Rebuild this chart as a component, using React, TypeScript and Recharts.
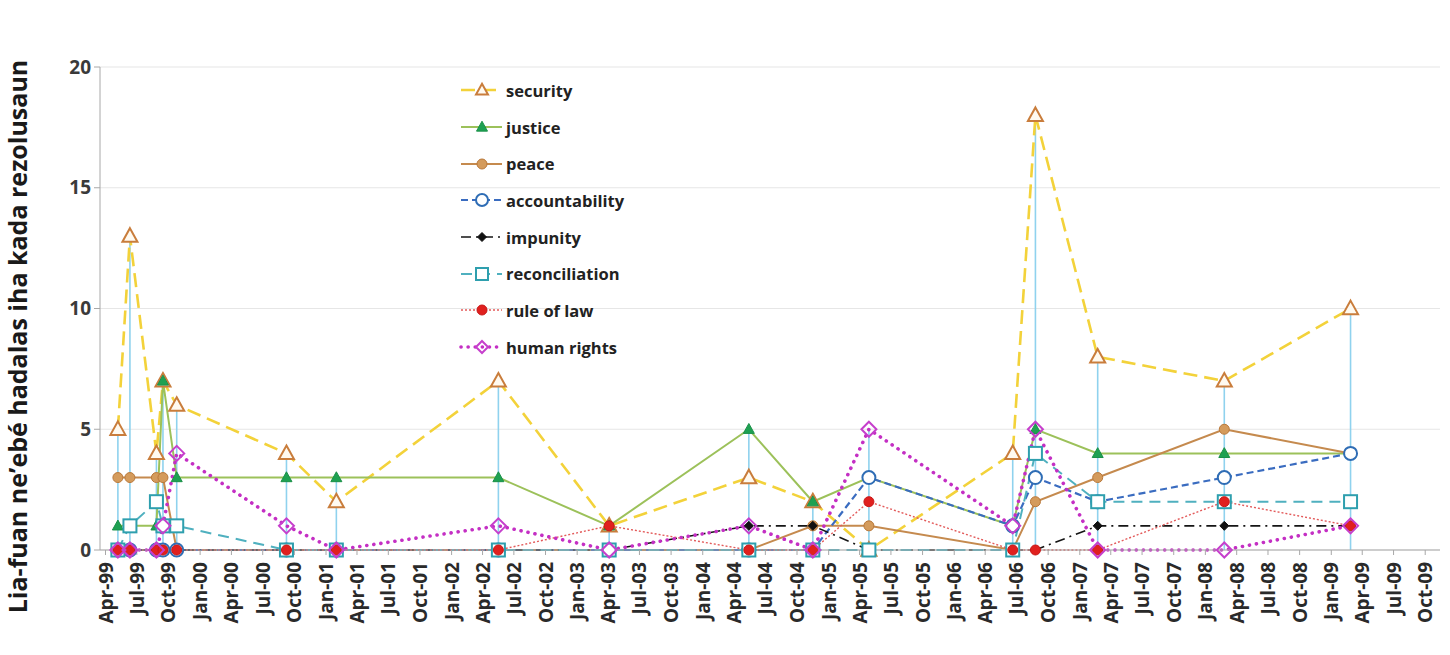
import React from 'react'
import { ComposedChart, Line, XAxis, YAxis, CartesianGrid, ReferenceLine } from 'recharts'

// resolution dates (one point per resolution)
const dates = [
  '1999-05-07', '1999-06-11', '1999-08-27', '1999-09-15', '1999-10-25',
  '2000-09-08', '2001-01-31', '2002-05-17', '2003-04-04', '2004-05-14',
  '2004-11-16', '2005-04-28', '2006-06-20', '2006-08-25', '2007-02-22',
  '2008-02-25', '2009-02-26',
]

const security = [5, 13, 4, 7, 6, 4, 2, 7, 1, 3, 2, 0, 4, 18, 8, 7, 10]
const justice = [1, 1, 1, 7, 3, 3, 3, 3, 1, 5, 2, 3, 1, 5, 4, 4, 4]
const peace = [3, 3, 3, 3, 0, 0, 0, 0, 0, 0, 1, 1, 0, 2, 3, 5, 4]
const accountability = [0, 0, 0, 0, 0, 0, 0, 0, 0, 0, 0, 3, 1, 3, 2, 3, 4]
const impunity = [0, 0, 0, 0, 0, 0, 0, 0, 0, 1, 1, 0, 0, 0, 1, 1, 1]
const reconciliation = [0, 1, 2, 1, 1, 0, 0, 0, 0, 0, 0, 0, 0, 4, 2, 2, 2]
const ruleOfLaw = [0, 0, 0, 0, 0, 0, 0, 0, 1, 0, 0, 2, 0, 0, 0, 2, 1]
const humanRights = [0, 0, 0, 1, 4, 1, 0, 1, 0, 1, 0, 5, 1, 5, 0, 0, 1]

const tickLabels = [
  'Apr-99', 'Jul-99', 'Oct-99', 'Jan-00', 'Apr-00', 'Jul-00', 'Oct-00', 'Jan-01', 'Apr-01', 'Jul-01', 'Oct-01',
  'Jan-02', 'Apr-02', 'Jul-02', 'Oct-02', 'Jan-03', 'Apr-03', 'Jul-03', 'Oct-03', 'Jan-04', 'Apr-04', 'Jul-04',
  'Oct-04', 'Jan-05', 'Apr-05', 'Jul-05', 'Oct-05', 'Jan-06', 'Apr-06', 'Jul-06', 'Oct-06', 'Jan-07', 'Apr-07',
  'Jul-07', 'Oct-07', 'Jan-08', 'Apr-08', 'Jul-08', 'Oct-08', 'Jan-09', 'Apr-09', 'Jul-09', 'Oct-09',
]
const yTicks = [0, 5, 10, 15, 20]
const xStart = '1999-03-16'
const xEnd = '2009-11-13'

const yTitle = 'Lia-fuan ne\u2019ebé hadalas iha kada rezolusaun'
const FONT = '"Open Sans", "DejaVu Sans", sans-serif'

const MONTHS: Record<string, number> = { Jan: 0, Apr: 3, Jul: 6, Oct: 9 }
const dayNum = (s: string) => {
  const [y, m, d] = s.split('-').map(Number)
  return Date.UTC(y, m - 1, d) / 86400000
}
const labelDay = (l: string) => {
  const [mon, yy] = l.split('-')
  const n = Number(yy)
  return Date.UTC(n > 50 ? 1900 + n : 2000 + n, MONTHS[mon], 1) / 86400000
}
const tickDays = tickLabels.map(labelDay)
const tickMap: Record<number, string> = {}
tickDays.forEach((d, i) => (tickMap[d] = tickLabels[i]))

const data = dates.map((d, i) => ({
  t: dayNum(d),
  security: security[i],
  justice: justice[i],
  peace: peace[i],
  accountability: accountability[i],
  impunity: impunity[i],
  reconciliation: reconciliation[i],
  ruleOfLaw: ruleOfLaw[i],
  humanRights: humanRights[i],
}))
// high-low drop lines: from 0 up to the highest value of each resolution
const highs = data.map((r, i) => ({
  t: r.t,
  hi: Math.max(security[i], justice[i], peace[i], accountability[i], impunity[i], reconciliation[i], ruleOfLaw[i], humanRights[i]),
}))

type Shape = 'triangle' | 'circle' | 'diamond' | 'square'
interface SeriesDef {
  key: string
  name: string
  line: string
  width: number
  dash?: string
  cap?: 'round' | 'butt'
  shape: Shape
  size: number
  fill: string
  stroke: string
  sw: number
}

const series: SeriesDef[] = [
  { key: 'security', name: 'security', line: '#f3d23a', width: 2.6, dash: '14 7', shape: 'triangle', size: 15, fill: '#fffaf0', stroke: '#c97d3c', sw: 2 },
  { key: 'justice', name: 'justice', line: '#9cc15a', width: 2, shape: 'triangle', size: 11, fill: '#1ea152', stroke: '#1a9048', sw: 1 },
  { key: 'peace', name: 'peace', line: '#c58a4e', width: 2, shape: 'circle', size: 10, fill: '#d49b5c', stroke: '#b9783a', sw: 1 },
  { key: 'accountability', name: 'accountability', line: '#3a6cc0', width: 2.2, dash: '7 4', shape: 'circle', size: 13, fill: '#ffffff', stroke: '#2f6db5', sw: 2 },
  { key: 'impunity', name: 'impunity', line: '#151515', width: 1.6, dash: '10 5 2 5', shape: 'diamond', size: 9, fill: '#111111', stroke: '#111111', sw: 1 },
  { key: 'reconciliation', name: 'reconciliation', line: '#4fb0bf', width: 2, dash: '11 7', shape: 'square', size: 13, fill: '#ffffff', stroke: '#2e9fae', sw: 2 },
  { key: 'ruleOfLaw', name: 'rule of law', line: '#e35a5a', width: 1.4, dash: '2 2', shape: 'circle', size: 10, fill: '#e0201e', stroke: '#c81818', sw: 1 },
  { key: 'humanRights', name: 'human rights', line: '#c42fc4', width: 3.6, dash: '0.1 7', cap: 'round', shape: 'diamond', size: 15, fill: 'none', stroke: '#c63fcc', sw: 2 },
]

function Marker({ cx, cy, s }: { cx: number; cy: number; s: SeriesDef }) {
  const h = s.size / 2
  const common = { fill: s.fill, stroke: s.stroke, strokeWidth: s.sw }
  if (s.shape === 'circle') return <circle cx={cx} cy={cy} r={h} {...common} />
  if (s.shape === 'square') return <rect x={cx - h} y={cy - h} width={s.size} height={s.size} {...common} />
  if (s.shape === 'diamond')
    return <path d={`M${cx},${cy - h} L${cx + h},${cy} L${cx},${cy + h} L${cx - h},${cy} Z`} {...common} />
  return <path d={`M${cx},${cy - h * 1.05} L${cx + h},${cy + h * 0.75} L${cx - h},${cy + h * 0.75} Z`} {...common} />
}

const XTick = ({ x, y, payload }: any) => (
  <text
    x={x}
    y={y}
    dx={-3}
    transform={`rotate(-90 ${x} ${y})`}
    textAnchor="end"
    dominantBaseline="central"
    fontFamily={FONT}
    fontWeight={700}
    fontSize={19}
    fill="#2a2a2a"
  >
    {tickMap[payload.value] ?? ''}
  </text>
)

function LegendBox() {
  return (
    <div
      style={{
        position: 'absolute',
        left: 460,
        top: 72,
        fontFamily: FONT,
        fontWeight: 700,
        fontSize: 16.5,
        color: '#222',
      }}
    >
      {series.map((s) => (
        <div key={s.key} style={{ display: 'flex', alignItems: 'center', height: 36.7 }}>
          <svg width={44} height={20} style={{ overflow: 'visible' }}>
            <line
              x1={1}
              y1={10}
              x2={42}
              y2={10}
              stroke={s.line}
              strokeWidth={s.width}
              strokeDasharray={s.dash}
              strokeLinecap={s.cap ?? 'butt'}
            />
            <Marker cx={22} cy={10} s={{ ...s, size: Math.min(s.size, 12) }} />
          </svg>
          <span style={{ marginLeft: 2 }}>{s.name}</span>
        </div>
      ))}
    </div>
  )
}

const YTitle = ({ viewBox }: any) => {
  const cx = 17
  const cy = viewBox.y + viewBox.height / 2 + 28
  return (
    <text
      x={cx}
      y={cy}
      transform={`rotate(-90 ${cx} ${cy})`}
      textAnchor="middle"
      dominantBaseline="central"
      fontFamily={FONT}
      fontWeight={700}
      fontSize={25}
      fill="#1a1a1a"
    >
      {yTitle}
    </text>
  )
}

export default function App() {
  return (
    <div style={{ position: 'absolute', left: 0, top: 0, width: 1450, height: 655, background: '#fff', overflow: 'hidden' }}>
      <ComposedChart width={1450} height={655} data={data} margin={{ top: 67, right: 10, bottom: 0, left: 0 }}>
        <CartesianGrid vertical={false} stroke="#e6e6e6" strokeWidth={1.2} />
        <XAxis
          dataKey="t"
          type="number"
          domain={[dayNum(xStart), dayNum(xEnd)]}
          ticks={tickDays}
          interval={0}
          allowDataOverflow
          height={105}
          tick={<XTick />}
          tickSize={5}
          tickMargin={4}
          axisLine={{ stroke: '#a8a8a8' }}
          tickLine={{ stroke: '#a8a8a8' }}
        />
        <YAxis
          type="number"
          domain={[0, 20]}
          ticks={yTicks}
          width={100}
          tickSize={6}
          tickMargin={3}
          axisLine={{ stroke: '#a8a8a8' }}
          tickLine={{ stroke: '#a8a8a8' }}
          tick={{ fontFamily: FONT, fontWeight: 700, fontSize: 19, fill: '#3a3a3a' }}
          label={<YTitle />}
        />
        {highs.map((h) => (
          <ReferenceLine
            key={h.t}
            segment={[
              { x: h.t, y: 0 },
              { x: h.t, y: h.hi },
            ]}
            stroke="#8fd2ee"
            strokeWidth={1.6}
          />
        ))}
        {series.map((s) => (
          <Line
            key={s.key}
            dataKey={s.key}
            name={s.name}
            type="linear"
            stroke={s.line}
            strokeWidth={s.width}
            strokeDasharray={s.dash}
            strokeLinecap={s.cap ?? 'butt'}
            isAnimationActive={false}
            dot={(p: any) => <Marker key={`${s.key}-${p.index}`} cx={p.cx} cy={p.cy} s={s} />}
            activeDot={false}
          />
        ))}
      </ComposedChart>
      <LegendBox />
    </div>
  )
}
